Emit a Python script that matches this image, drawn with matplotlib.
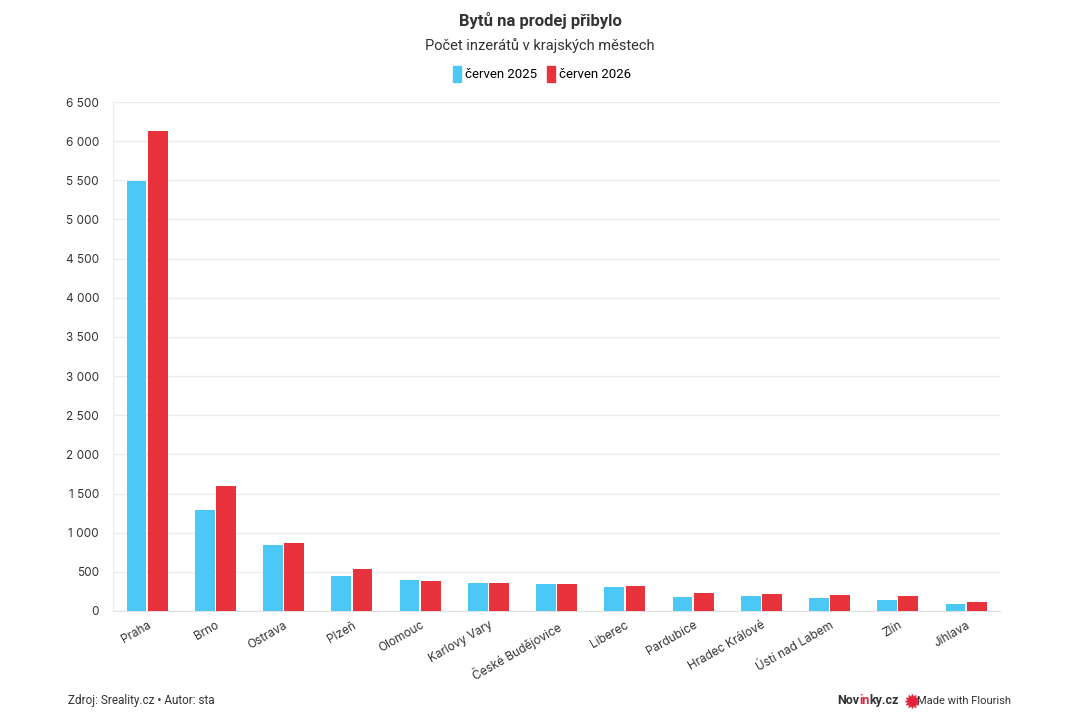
import matplotlib.pyplot as plt
import numpy as np
from matplotlib.lines import Line2D
from matplotlib.ticker import FuncFormatter

cities = ['Praha', 'Brno', 'Ostrava', 'Plzeň', 'Olomouc', 'Karlovy Vary',
          'České Budějovice', 'Liberec', 'Pardubice', 'Hradec Králové',
          'Ústí nad Labem', 'Zlín', 'Jihlava']
jun_2025 = [5490, 1290, 837, 445, 397, 355, 346, 308, 175, 192, 167, 137, 86]
jun_2026 = [6125, 1595, 870, 538, 381, 352, 340, 317, 236, 218, 210, 188, 112]
series_names = ['červen 2025', 'červen 2026']
yticks = list(range(0, 6501, 500))

blue = '#4cc8f6'
red = '#e8333c'
txt = '#333333'

plt.rcParams['font.family'] = ['Inter', 'DejaVu Sans']

fig = plt.figure(figsize=(10.8, 7.2), dpi=100)
ax = fig.add_axes([0.1046, 0.1514, 0.8215, 0.7069])

x = np.arange(len(cities))
w = 0.29
ax.bar(x - 0.155, jun_2025, w, color=blue, zorder=3)
ax.bar(x + 0.155, jun_2026, w, color=red, zorder=3)

ax.set_xlim(-0.5, len(cities) - 0.5)
ax.set_ylim(0, 6500)
ax.set_yticks(yticks)
ax.yaxis.set_major_formatter(FuncFormatter(lambda v, p: f'{int(v):,}'.replace(',', ' ')))
ax.grid(axis='y', color='#ececec', linewidth=1, zorder=0)
for s in ['top', 'right', 'left']:
    ax.spines[s].set_visible(False)
ax.spines['bottom'].set_color('#e0e0e0')
ax.axvline(-0.5, color='#ececec', linewidth=1, zorder=0)
ax.tick_params(axis='y', length=0, pad=10, labelsize=8.5, labelcolor=txt)
ax.tick_params(axis='x', length=0, pad=6, labelsize=8.5, labelcolor=txt)
ax.set_xticks(x)
ax.set_xticklabels(cities, rotation=30, ha='right', rotation_mode='anchor')

fig.text(0.5, 0.972, 'Bytů na prodej přibylo', ha='center', va='center',
         fontsize=12, fontweight='bold', color='#333333', family='Roboto')
fig.text(0.5, 0.937, 'Počet inzerátů v krajských městech', ha='center', va='center',
         fontsize=10.5, color='#333333', family='Roboto')

# legend, tall swatches
swatch = [(-0.45, -1), (0.45, -1), (0.45, 1), (-0.45, 1), (-0.45, -1)]
handles = [Line2D([], [], marker=swatch, linestyle='', markersize=12, color=c)
           for c in (blue, red)]
fig.legend(handles, series_names, loc='center', bbox_to_anchor=(0.5, 0.896),
           ncol=2, frameon=False, handletextpad=0.0,
           columnspacing=0.5, handlelength=1.2,
           prop={'family': 'Roboto', 'size': 9.5})

fig.text(0.063, 0.027, 'Zdroj: Sreality.cz • Autor: sta', ha='left', va='center',
         fontsize=8.5, color='#333333', family='Roboto')
fig.text(0.936, 0.027, 'Made with Flourish', ha='right', va='center',
         fontsize=8, color='#333333', family='Roboto')
fig.add_artist(Line2D([0.8445], [0.027], marker=(12, 1, 0), markersize=10,
                      color='#e6223a', transform=fig.transFigure))
t1 = fig.text(0.775, 0.027, 'Nov', ha='left', va='center', fontsize=9,
              fontweight='bold', color='#333333', family='Roboto')
t2 = fig.text(0, 0, 'in', ha='left', va='center', fontsize=9, fontweight='bold',
              color='#e6223a', family='Roboto')
t3 = fig.text(0, 0, 'ky.cz', ha='left', va='center', fontsize=9, fontweight='bold',
              color='#333333', family='Roboto')
fig.canvas.draw()
inv = fig.transFigure.inverted()
r = fig.canvas.get_renderer()
e1 = t1.get_window_extent(r)
t2.set_position((inv.transform((e1.x1, 0))[0], 0.027))
e2 = t2.get_window_extent(r)
t3.set_position((inv.transform((e2.x1, 0))[0], 0.027))

plt.savefig('out.png', dpi=100)
